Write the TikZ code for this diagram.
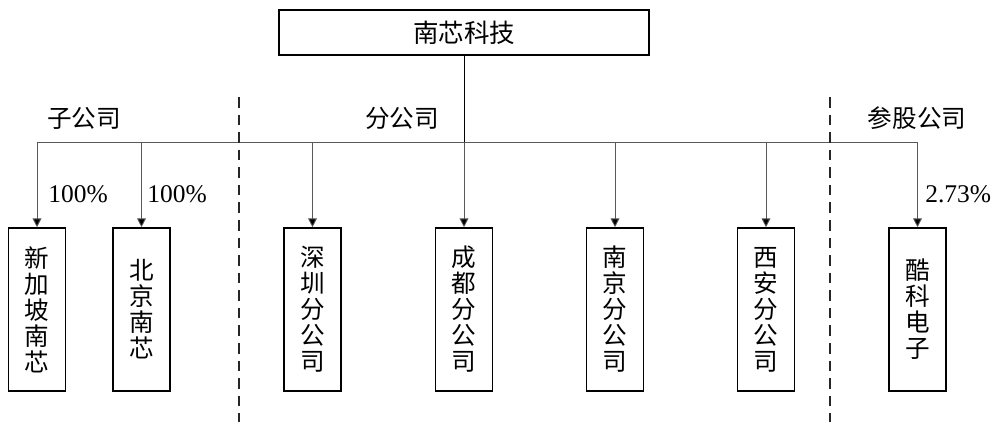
\documentclass[tikz,border=0pt]{standalone}
\usepackage{fontspec}
\setmainfont{Liberation Serif}
\newfontfamily\cjk{Noto Sans CJK SC}
\usetikzlibrary{arrows.meta}
\begin{document}
\begin{tikzpicture}[x=0.02cm,y=-0.02cm,
  topbox/.style={draw=black,line width=0.9pt,minimum width=370*0.02cm,minimum height=45*0.02cm,inner sep=0pt,font=\cjk\fontsize{14.5pt}{16pt}\selectfont},
  vbox/.style={draw=black,line width=0.9pt,minimum width=57*0.02cm,minimum height=163*0.02cm,inner sep=0pt,align=center,font=\cjk\fontsize{14pt}{14.8pt}\selectfont},
  grp/.style={font=\cjk\fontsize{14pt}{16pt}\selectfont,inner sep=0pt},
  pct/.style={font=\fontsize{14.5pt}{16pt}\selectfont,inner sep=0pt},
  conn/.style={draw=black!65,line width=0.5pt},
  arr/.style={conn,-{Triangle[length=5pt,width=5pt,fill=black]}},
  sep/.style={draw=black!85,line width=0.8pt,dash pattern=on 6pt off 4pt}]
\useasboundingbox (0,0) rectangle (1000,431);
\node[topbox] (top) at (464,32.5) {南芯科技};
\coordinate (busL) at (37,142);
\coordinate (busR) at (918,142);
\node[vbox] (b1) at (37,309.5) {新\\加\\坡\\南\\芯};
\node[vbox] (b2) at (141.5,309.5) {北\\京\\南\\芯};
\node[vbox] (b3) at (312.5,309.5) {深\\圳\\分\\公\\司};
\node[vbox] (b4) at (464,309.5) {成\\都\\分\\公\\司};
\node[vbox] (b5) at (615,309.5) {南\\京\\分\\公\\司};
\node[vbox] (b6) at (766,309.5) {西\\安\\分\\公\\司};
\node[vbox] (b7) at (917.5,309.5) {酷\\科\\电\\子};
\draw[conn] (busL) -- (busR);
\draw[conn,draw=black] (top.south) -- (top.south |- busL);
\foreach \b in {b1,b2,b3,b4,b5,b6,b7}
  \draw[arr] (\b.north |- busL) -- (\b.north);
\coordinate (d1t) at (239,97); \coordinate (d1b) at (239,422);
\coordinate (d2t) at (830,97); \coordinate (d2b) at (830,422);
\draw[sep] (d1t) -- (d1b);
\draw[sep] (d2t) -- (d2b);
\node[grp] (g1) at (84,118) {子公司};
\node[grp] (g2) at (402,118) {分公司};
\node[grp] (g3) at (917,118) {参股公司};
\node[pct,anchor=west] (p1) at (48,194) {100\%};
\node[pct,anchor=west] (p2) at (147,194) {100\%};
\node[pct,anchor=west] (p3) at (925,194) {2.73\%};
\end{tikzpicture}
\end{document}
